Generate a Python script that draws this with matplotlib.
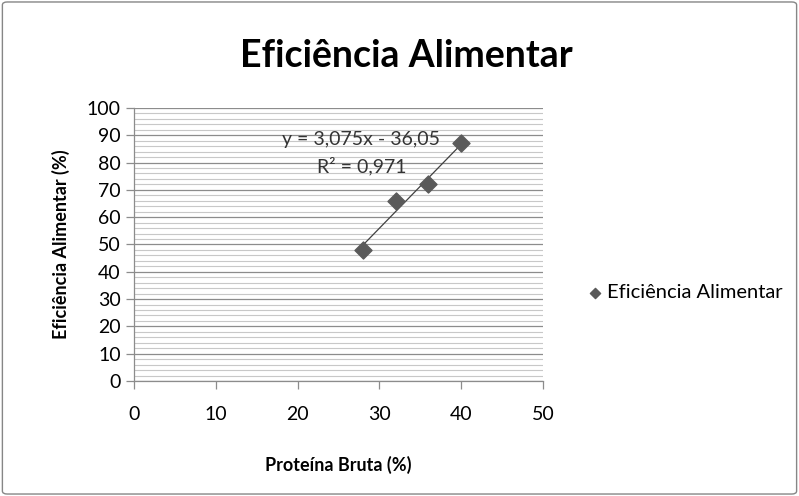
import numpy as np
import matplotlib
matplotlib.use("Agg")
from matplotlib import pyplot as plt
from matplotlib.patches import FancyBboxPatch

# Data
proteina = np.array([28, 32, 36, 40])
eficiencia = np.array([48, 66, 72, 87])
xticks = [0, 10, 20, 30, 40, 50]
yticks = [0, 10, 20, 30, 40, 50, 60, 70, 80, 90, 100]
eq_txt = "y = 3,075x - 36,05"
r2_txt = "R² = 0,971"

plt.rcParams['font.family'] = ['Lato', 'DejaVu Sans']

fig = plt.figure(figsize=(7.99, 4.96), dpi=100)
fig.patch.set_facecolor('white')
border = FancyBboxPatch((0.003, 0.004), 0.994, 0.992,
                        boxstyle="round,pad=0,rounding_size=0.006",
                        transform=fig.transFigure, fill=False,
                        edgecolor='#868686', linewidth=1.0)
fig.patches.append(border)

ax = fig.add_axes([0.1677, 0.2319, 0.5119, 0.5504])

# Grid
ax.set_yticks(np.arange(0, 101, 2), minor=True)
ax.grid(which='minor', axis='y', color='#c8c8c8', linewidth=0.8)
ax.grid(which='major', axis='y', color='#8c8c8c', linewidth=0.9)
ax.set_axisbelow(True)

# Trendline
coef = np.polyfit(proteina, eficiencia, 1)
xl = np.array([proteina.min(), proteina.max()])
ax.plot(xl, np.polyval(coef, xl), color='#404040', linewidth=0.9, zorder=3)

ax.scatter(proteina, eficiencia, marker='D', s=75, color='#5a5a5a',
           zorder=4, label='Eficiência Alimentar')

ax.text(27.8, 88.3, eq_txt, ha='center', va='center', fontsize=14,
        color='#333333', zorder=5)
ax.text(27.8, 78.6, r2_txt, ha='center', va='center', fontsize=14,
        color='#333333', zorder=5)

ax.set_xlim(0, 50)
ax.set_ylim(0, 100)
ax.set_xticks(xticks)
ax.set_yticks(yticks)
ax.tick_params(axis='both', which='major', labelsize=14, colors='#8c8c8c',
               labelcolor='black', length=6, width=0.9)
ax.tick_params(axis='x', pad=12)
ax.tick_params(which='minor', length=0)
for s in ['top', 'right']:
    ax.spines[s].set_visible(False)
for s in ['left', 'bottom']:
    ax.spines[s].set_color('#8c8c8c')
    ax.spines[s].set_linewidth(0.9)

ax.set_xlabel('Proteína Bruta (%)', fontsize=13, fontweight='bold', labelpad=24)
ax.set_ylabel('Eficiência Alimentar (%)', fontsize=13, fontweight='bold', labelpad=12)

fig.text(0.508, 0.887, 'Eficiência Alimentar', ha='center', va='center',
         fontsize=27, fontweight='bold')

fig.legend(handles=[ax.collections[0]], labels=['Eficiência Alimentar'],
           loc='center left', bbox_to_anchor=(0.71, 0.41), frameon=False,
           fontsize=14.5, handletextpad=0.05, markerscale=0.6,
           handlelength=1.0)

fig.savefig('out.png', dpi=100)
